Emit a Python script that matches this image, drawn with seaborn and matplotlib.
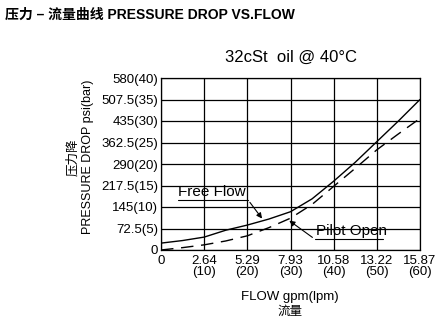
import matplotlib
matplotlib.use("Agg")
import matplotlib.pyplot as plt
import seaborn as sns
import pandas as pd

# ---- data ----
flow_lpm = [0, 5, 10, 15, 20, 25, 30, 35, 40, 45, 50, 55, 60]
free_flow_bar = [1.6, 2.2, 3.0, 4.6, 5.8, 7.2, 8.9, 11.9, 16.0, 20.4, 25.2, 30.0, 35.0]
pilot_open_bar = [0.0, 0.55, 1.2, 2.1, 3.3, 5.2, 7.4, 10.6, 14.8, 19.0, 23.3, 27.0, 30.6]

x_ticks = [0, 10, 20, 30, 40, 50, 60]
x_tick_labels = ["0", "2.64\n(10)", "5.29\n(20)", "7.93\n(30)", "10.58\n(40)", "13.22\n(50)", "15.87\n(60)"]
y_ticks = [0, 5, 10, 15, 20, 25, 30, 35, 40]
y_tick_labels = ["0", "72.5(5)", "145(10)", "217.5(15)", "290(20)", "362.5(25)", "435(30)", "507.5(35)", "580(40)"]

title = "压力 – 流量曲线 PRESSURE DROP VS.FLOW"
subtitle = "32cSt  oil @ 40°C"

sns.set_theme(style="white")
FAM = ["Liberation Sans", "Noto Sans CJK SC", "DejaVu Sans"]
plt.rcParams["font.family"] = FAM
plt.rcParams["text.color"] = "black"
plt.rcParams["xtick.color"] = "black"
plt.rcParams["ytick.color"] = "black"
plt.rcParams["axes.labelcolor"] = "black"

df = pd.DataFrame({"flow": flow_lpm, "free": free_flow_bar, "pilot": pilot_open_bar})

W, H = 444, 325
fig = plt.figure(figsize=(W / 100, H / 100), dpi=100)
ax = fig.add_axes([161 / W, 1 - 250 / H, (420 - 161) / W, (250 - 78) / H])

sns.lineplot(data=df, x="flow", y="free", ax=ax, color="black", lw=1.0)
sns.lineplot(data=df, x="flow", y="pilot", ax=ax, color="black", lw=1.0,
             linestyle=(0, (9, 5.5)))

ax.set_xlim(0, 60)
ax.set_ylim(0, 40)
ax.set_xticks(x_ticks)
ax.set_xticklabels(x_tick_labels, fontsize=9.5, linespacing=0.9)
ax.set_yticks(y_ticks)
ax.set_yticklabels(y_tick_labels, fontsize=9.5)
ax.tick_params(axis="both", length=0, colors="black")
ax.tick_params(axis="x", pad=3.5)
ax.tick_params(axis="y", pad=2)
ax.grid(True, color="black", lw=0.9)
for s in ax.spines.values():
    s.set_color("black")
    s.set_linewidth(0.9)
ax.set_xlabel("")
ax.set_ylabel("")

# annotations
ax.annotate("", xy=(23.8, 6.8), xytext=(20.2, 11.6),
            arrowprops=dict(arrowstyle="-|>", color="black", lw=0.8, mutation_scale=8))
ax.plot([4.0, 20.2], [11.6, 11.6], color="black", lw=0.8)
ax.text(4.0, 11.9, "Free Flow", fontsize=11, ha="left", va="bottom")

ax.annotate("", xy=(29.2, 7.2), xytext=(35.6, 2.55),
            arrowprops=dict(arrowstyle="-|>", color="black", lw=0.8, mutation_scale=8))
ax.plot([35.6, 51.4], [2.55, 2.55], color="black", lw=0.8)
ax.text(35.8, 2.9, "Pilot Open", fontsize=11, ha="left", va="bottom")

# texts in figure pixels
def fx(px):
    return px / W

def fy(py):
    return 1 - py / H

fig.text(fx(5), fy(15), title, fontsize=10, fontweight="bold", ha="left", va="center")
fig.text(fx(291), fy(57), subtitle, fontsize=12, ha="center", va="center")
fig.text(fx(73), fy(157), "压力降", fontsize=9, rotation=90, ha="center", va="center")
fig.text(fx(88), fy(157), "PRESSURE DROP psi(bar)", fontsize=9, rotation=90, ha="center", va="center")
fig.text(fx(290), fy(297), "FLOW gpm(lpm)", fontsize=9.5, ha="center", va="center")
fig.text(fx(290), fy(312), "流量", fontsize=9, ha="center", va="center")

fig.savefig("out.png", dpi=100)
